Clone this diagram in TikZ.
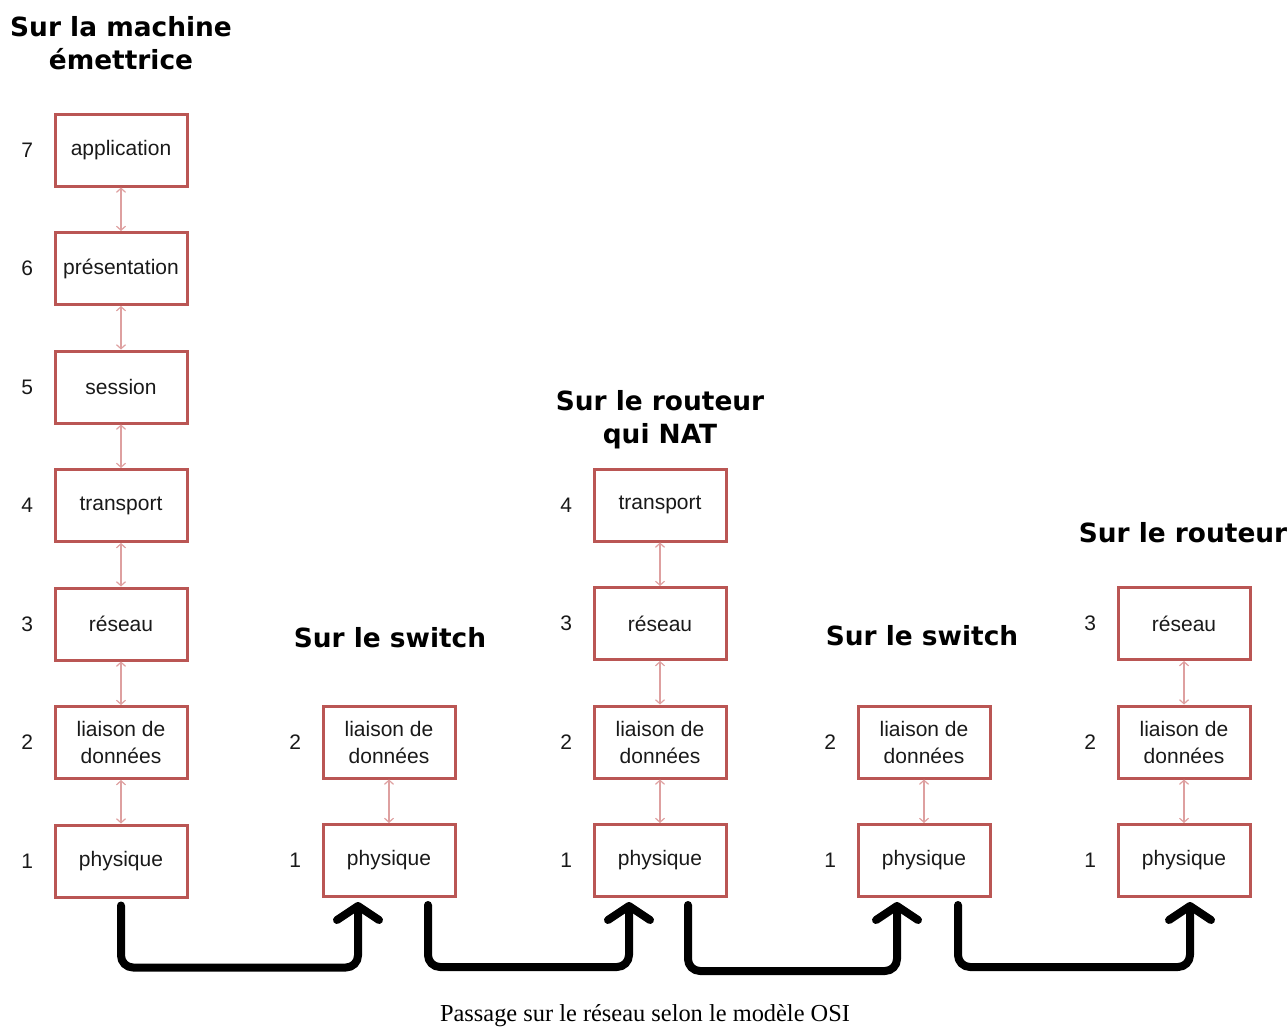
\documentclass[tikz,border=0pt]{standalone}
\usepackage{fontspec}
\setmainfont{Liberation Serif}
\newfontfamily\titrefont{DejaVu Sans}
\newfontfamily\boitefont{Liberation Sans}
\usepackage{xcolor}
\usetikzlibrary{arrows.meta,positioning}
\definecolor{boxred}{RGB}{186,86,84}
\definecolor{lienrose}{RGB}{222,160,160}
\definecolor{texte}{RGB}{25,25,25}
\tikzset{
  couche/.style ={draw=boxred,line width=1.5pt,minimum width=66pt,minimum height=36pt,
                  align=center,inner sep=2pt,text=texte,
                  font=\boitefont\fontsize{10.5}{13.5}\selectfont},
  num/.style    ={inner sep=0pt,text=texte,font=\boitefont\fontsize{10.5}{12}\selectfont},
  titre/.style  ={align=center,inner sep=0pt,font=\titrefont\bfseries\fontsize{13.2}{16.5}\selectfont},
  lien/.style   ={draw=lienrose,line width=0.6pt,>={Straight Barb[length=2pt,width=4.5pt]},<->},
  passage/.style={line width=4pt,rounded corners=6pt,line cap=round,line join=round,
                  -{Straight Barb[length=7pt,width=21pt,round]}},
  legende/.style={inner sep=0pt,font=\fontsize{12.2}{14}\selectfont},
}
\begin{document}
\begin{tikzpicture}[x=0.5pt,y=-0.5pt,node distance=21.75pt]
  \useasboundingbox (0,0) rectangle (1288,1028);
  % machine emettrice
  \node[titre] (t1) at (121,43) {Sur la machine\\émettrice};
  \node[couche] (a7) at (121,150) {application};
  \node[couche,below=of a7] (a6) {présentation};
  \node[couche,below=of a6] (a5) {session};
  \node[couche,below=of a5] (a4) {transport};
  \node[couche,below=of a4] (a3) {réseau};
  \node[couche,below=of a3] (a2) {liaison de\\données};
  \node[couche,below=of a2] (a1) {physique};
  \node[num,left=10pt of a7] (na7) {7};
  \node[num,left=10pt of a6] (na6) {6};
  \node[num,left=10pt of a5] (na5) {5};
  \node[num,left=10pt of a4] (na4) {4};
  \node[num,left=10pt of a3] (na3) {3};
  \node[num,left=10pt of a2] (na2) {2};
  \node[num,left=10pt of a1] (na1) {1};
  \draw[lien] (a7) -- (a6);
  \draw[lien] (a6) -- (a5);
  \draw[lien] (a5) -- (a4);
  \draw[lien] (a4) -- (a3);
  \draw[lien] (a3) -- (a2);
  \draw[lien] (a2) -- (a1);
  % premier switch
  \node[titre] (t2) at (390,638) {Sur le switch};
  \node[couche] (b2) at (389,742) {liaison de\\données};
  \node[couche,below=of b2] (b1) {physique};
  \node[num,left=10pt of b2] (nb2) {2};
  \node[num,left=10pt of b1] (nb1) {1};
  \draw[lien] (b2) -- (b1);
  % routeur qui NAT
  \node[titre] (t3) at (660,420) {Sur le routeur\\qui NAT};
  \node[couche] (c4) at (660,505) {transport};
  \node[couche,below=of c4] (c3) {réseau};
  \node[couche,below=of c3] (c2) {liaison de\\données};
  \node[couche,below=of c2] (c1) {physique};
  \node[num,left=10pt of c4] (nc4) {4};
  \node[num,left=10pt of c3] (nc3) {3};
  \node[num,left=10pt of c2] (nc2) {2};
  \node[num,left=10pt of c1] (nc1) {1};
  \draw[lien] (c4) -- (c3);
  \draw[lien] (c3) -- (c2);
  \draw[lien] (c2) -- (c1);
  % second switch
  \node[titre] (t4) at (922,636) {Sur le switch};
  \node[couche] (d2) at (924,742) {liaison de\\données};
  \node[couche,below=of d2] (d1) {physique};
  \node[num,left=10pt of d2] (nd2) {2};
  \node[num,left=10pt of d1] (nd1) {1};
  \draw[lien] (d2) -- (d1);
  % routeur
  \node[titre] (t5) at (1183,533) {Sur le routeur};
  \node[couche] (e3) at (1184,623.5) {réseau};
  \node[couche,below=of e3] (e2) {liaison de\\données};
  \node[couche,below=of e2] (e1) {physique};
  \node[num,left=10pt of e3] (ne3) {3};
  \node[num,left=10pt of e2] (ne2) {2};
  \node[num,left=10pt of e1] (ne1) {1};
  \draw[lien] (e3) -- (e2);
  \draw[lien] (e2) -- (e1);
  % passage physique
  \draw[passage] ([yshift=-3.5pt]a1.south) -- ++(0,-31pt) -| ([xshift=-15.5pt,yshift=-2pt]b1.south);
  \draw[passage] ([xshift=19.5pt,yshift=-3.5pt]b1.south) -- ++(0,-31pt) -| ([xshift=-15.5pt,yshift=-2pt]c1.south);
  \draw[passage] ([xshift=14pt,yshift=-3.5pt]c1.south) -- ++(0,-33pt) -| ([xshift=-13.5pt,yshift=-2pt]d1.south);
  \draw[passage] ([xshift=17pt,yshift=-3.5pt]d1.south) -- ++(0,-31pt) -| ([xshift=3pt,yshift=-2pt]e1.south);
  \node[legende] (leg) at (645,1016) {Passage sur le réseau selon le modèle OSI};
\end{tikzpicture}
\end{document}
